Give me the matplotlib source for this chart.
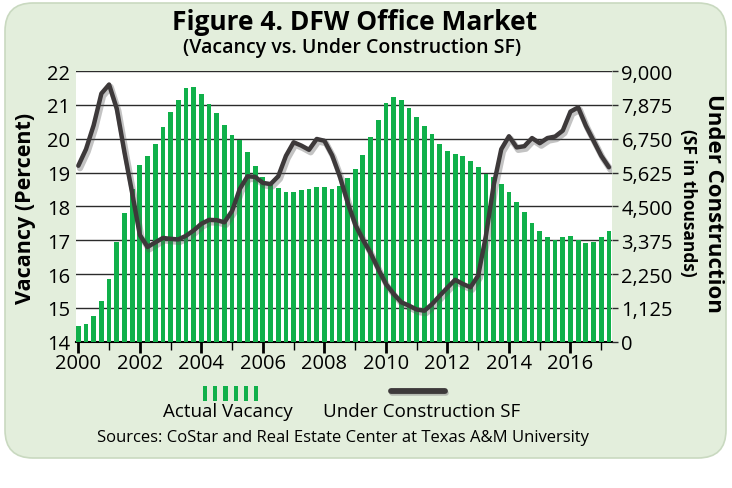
import numpy as np
import matplotlib
matplotlib.use("Agg")
import matplotlib.pyplot as plt
from matplotlib.patches import FancyBboxPatch, Rectangle
from matplotlib.ticker import FuncFormatter, MultipleLocator
import matplotlib.patheffects as pe

plt.rcParams['font.family'] = ['Open Sans', 'DejaVu Sans']

# ---------------- data ----------------
start_year = 2000.0
vacancy = [14.47, 14.51, 14.77, 15.19, 15.86, 16.94, 17.79, 18.50,
           19.22, 19.48, 19.83, 20.34, 20.78, 21.15, 21.50, 21.54,
           21.32, 21.01, 20.77, 20.40, 20.12, 19.96, 19.60, 19.18,
           18.87, 18.69, 18.54, 18.41, 18.41, 18.47, 18.50, 18.58,
           18.58, 18.50, 18.61, 18.84, 19.09, 19.51, 20.06, 20.56,
           21.06, 21.24, 21.15, 20.92, 20.63, 20.37, 20.15, 19.85,
           19.63, 19.54, 19.48, 19.35, 19.15, 18.96, 18.87, 18.66,
           18.41, 18.12, 17.82, 17.51, 17.28, 17.08, 17.02, 17.08,
           17.11, 17.02, 16.91, 16.94, 17.08, 17.28]
under_construction = [5850, 6400, 7200, 8250, 8550, 7750, 6300, 4950,
                      3550, 3150, 3300, 3450, 3420, 3400, 3520, 3700,
                      3920, 4050, 4040, 3970, 4350, 5080, 5500, 5480,
                      5280, 5240, 5500, 6180, 6630, 6520, 6380, 6740,
                      6680, 6200, 5500, 4650, 3900, 3400, 2950, 2420,
                      1920, 1590, 1310, 1200, 1070, 1030, 1250, 1530,
                      1800, 2060, 1920, 1810, 2200, 3520, 5190, 6400,
                      6830, 6460, 6500, 6770, 6600, 6770, 6820, 7020,
                      7650, 7790, 7180, 6680, 6180, 5800]
year_labels = ['2000', '2002', '2004', '2006', '2008', '2010', '2012', '2014', '2016']
left_ticks = [14, 15, 16, 17, 18, 19, 20, 21, 22]
right_ticks = [0, 1125, 2250, 3375, 4500, 5625, 6750, 7875, 9000]

x = start_year + 0.25 * np.arange(len(vacancy))

GREEN = '#10b04a'
LINE = '#3d393a'
PANEL = '#e3eedc'

W, H = 732, 489
fig = plt.figure(figsize=(W / 100, H / 100), dpi=100)
fig.patch.set_facecolor('white')

# background panel (pixel coordinates)
bg = fig.add_axes([0, 0, 1, 1], zorder=-10)
bg.set_xlim(0, W)
bg.set_ylim(H, 0)
bg.axis('off')
bg.add_patch(FancyBboxPatch((5, 4), 721, 455,
                            boxstyle="round,pad=0,rounding_size=28",
                            facecolor=PANEL, edgecolor='#c9d9c0', linewidth=1.2))

# main axes
ax_l, ax_r = 76.0, 611.7
ax_t, ax_b = 72.0, 342.7
ax = fig.add_axes([ax_l / W, 1 - ax_b / H, (ax_r - ax_l) / W, (ax_b - ax_t) / H], zorder=1)
ax.set_facecolor('white')
ax.set_xlim(1999.925, 2017.34)
ax.set_ylim(14, 22)
ax.set_yticks(left_ticks)
ax.grid(axis='y', color='#2b2b2b', linewidth=1.0, zorder=0)
ax.set_axisbelow(True)
ax.bar(x, vacancy, width=0.155, color=GREEN, zorder=2)

for s in ['top', 'right', 'left']:
    ax.spines[s].set_visible(False)
ax.spines['bottom'].set_color('black')
ax.spines['bottom'].set_linewidth(1.5)
ax.spines['bottom'].set_zorder(1)

ax.set_xticks([int(v) for v in year_labels])
ax.set_xticklabels(year_labels)
ax.xaxis.set_minor_locator(MultipleLocator(1))
ax.tick_params(axis='x', which='major', length=8, width=2, color='black',
               labelsize=14.5, pad=0)
ax.tick_params(axis='x', which='minor', length=6, width=1, color='black')
ax.tick_params(axis='y', length=0, labelsize=14.5, pad=4)

ax2 = ax.twinx()
ax2.set_ylim(0, 9000)
ax2.set_yticks(right_ticks)
ax2.yaxis.set_major_formatter(FuncFormatter(lambda v, p: f"{int(v):,}"))
ax2.tick_params(axis='y', length=4, width=1, color='#2b2b2b', labelsize=14.5, pad=3)
for s in ax2.spines.values():
    s.set_visible(False)
ax2.plot(x, under_construction, color=LINE, linewidth=3.2, solid_joinstyle='round',
         solid_capstyle='round', zorder=3,
         path_effects=[pe.SimpleLineShadow(offset=(1.2, -1.8), shadow_color='#555555',
                                           alpha=0.35, linewidth=4.5),
                       pe.Normal()])

# titles and axis labels
bg.text(355, 23, 'Figure 4. DFW Office Market', ha='center', va='center',
        fontsize=19, fontweight='bold', color='black')
bg.text(352, 48, '(Vacancy vs. Under Construction SF)', ha='center', va='center',
        fontsize=14, fontweight='semibold', color='black')
bg.text(26, 208, 'Vacancy (Percent)', ha='center', va='center', rotation=90,
        fontsize=15.5, fontweight='bold', color='black')
bg.text(714, 203, 'Under Construction', ha='center', va='center', rotation=-90,
        fontsize=16, fontweight='bold', color='black')
bg.text(688, 203, '(SF in thousands)', ha='center', va='center', rotation=-90,
        fontsize=12.5, fontweight='bold', color='black')

# legend
for k in range(6):
    bg.add_patch(Rectangle((203 + k * 10.2, 387), 4.2, 15, facecolor=GREEN, edgecolor='none'))
bg.plot([392, 446], [394, 394], color='#888888', linewidth=4, alpha=0.5,
        solid_capstyle='round')
bg.plot([391, 445], [392, 392], color=LINE, linewidth=4.2, solid_capstyle='round')
bg.text(228, 412, 'Actual Vacancy', ha='center', va='center', fontsize=13.5, color='black')
bg.text(422, 412, 'Under Construction SF', ha='center', va='center', fontsize=13.5, color='black')
bg.text(343, 438, 'Sources: CoStar and Real Estate Center at Texas A&M University',
        ha='center', va='center', fontsize=12, color='black')

fig.savefig('out.png', dpi=100, facecolor='white')
